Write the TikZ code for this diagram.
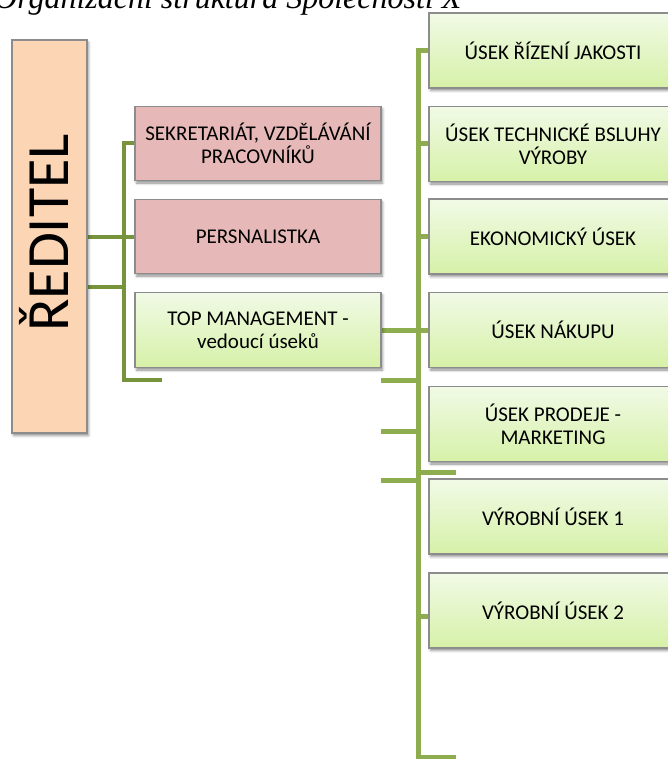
\documentclass[tikz,border=0pt]{standalone}
\usepackage{fontspec}
\setmainfont{Carlito}
\newfontfamily\titlefont{Liberation Serif}
\usetikzlibrary{shadows.blur,backgrounds}

\definecolor{peach}{HTML}{FCD5B5}
\definecolor{rose}{HTML}{E6B9B8}
\definecolor{greentop}{HTML}{F1FAE6}
\definecolor{greenbot}{HTML}{D6F1A8}
\definecolor{edge}{HTML}{8C8C8C}
\definecolor{linkdark}{HTML}{77933C}
\definecolor{linklight}{HTML}{8DAD4F}

\tikzset{
  box/.style={draw=edge, line width=1.3pt, inner sep=2pt, align=center,
    font=\fontsize{21}{23}\selectfont,
    blur shadow={shadow xshift=1.5pt, shadow yshift=-2.5pt,
      shadow blur radius=2.5pt, shadow opacity=45}},
  pinkbox/.style={box, fill=rose, minimum width=246pt, minimum height=74pt},
  greenbox/.style={box, top color=greentop, bottom color=greenbot,
    minimum width=246pt, minimum height=75pt},
  unitbox/.style={greenbox, minimum width=248pt},
  leftlink/.style={draw=linkdark, line width=4pt},
  rightlink/.style={draw=linklight, line width=5pt},
}

\begin{document}
\begin{tikzpicture}[x=1pt, y=-1pt]
  \useasboundingbox (0,0) rectangle (667,759);

  % heading, partly above the page edge
  \node[anchor=base west, inner sep=0,
        font=\titlefont\itshape\fontsize{32}{32}\selectfont] (title)
        at (-6,9) {Organizační struktura Společnosti X};

  % director
  \node[box, fill=peach, minimum width=75pt, minimum height=393pt] (boss)
        at (49.5,236.5) {};
  \node[rotate=90, anchor=base, inner sep=0,
        font=\fontsize{60}{60}\selectfont] (bosslabel) at (68,233) {ŘEDITEL};

  % staff units
  \node[pinkbox] (sek) at (258,143.5) {SEKRETARIÁT, VZDĚLÁVÁNÍ\\PRACOVNÍKŮ};
  \node[pinkbox] (pers) at (258,236.5) {PERSNALISTKA};
  \node[greenbox] (top) at (258,330) {TOP MANAGEMENT -\\vedoucí úseků};

  % divisions (their right side runs past the page edge)
  \node[unitbox] (u1) at (553,50.5)  {ÚSEK ŘÍZENÍ JAKOSTI};
  \node[unitbox] (u2) at (553,144)   {ÚSEK TECHNICKÉ BSLUHY\\VÝROBY};
  \node[unitbox] (u3) at (553,236.5) {EKONOMICKÝ ÚSEK};
  \node[unitbox] (u4) at (553,330)   {ÚSEK NÁKUPU};
  \node[unitbox] (u5) at (553,424)   {ÚSEK PRODEJE -\\MARKETING};
  \node[unitbox] (u6) at (553,516.5) {VÝROBNÍ ÚSEK 1};
  \node[unitbox] (u7) at (553,610.5) {VÝROBNÍ ÚSEK 2};

  % trunk positions and loose line ends
  \coordinate (lx) at (124,0);
  \coordinate (rx) at (418,0);
  \coordinate (lend) at (162,380);
  \coordinate (lstub) at (124,287);
  \coordinate (rend) at (456,757);
  \coordinate (s1) at (381,380);
  \coordinate (s2) at (381,431);
  \coordinate (s3) at (456,472);
  \coordinate (s4) at (381,480);

  \begin{scope}[on background layer]
    % left tree
    \draw[leftlink] (sek.west) -- (sek.west -| lx) -- (lx |- lend) -- (lend);
    \draw[leftlink] (boss.east) -- (pers.west);
    \draw[leftlink] (boss.east |- lstub) -- (lstub);

    % right tree
    \draw[rightlink] (u1.west) -- (u1.west -| rx) -- (rx |- rend) -- (rend);
    \draw[rightlink] (rx |- u2.west) -- (u2.west);
    \draw[rightlink] (rx |- u3.west) -- (u3.west);
    \draw[rightlink] (top.east) -- (u4.west);
    \draw[rightlink] ([yshift=-6pt]u7.west -| rx) -- ([yshift=-6pt]u7.west);
    \draw[rightlink] (s1) -- (s1 -| rx);
    \draw[rightlink] (s2) -- (s2 -| rx);
    \draw[rightlink] (s3) -- (s3 -| rx);
    \draw[rightlink] (s4) -- (s4 -| rx);
  \end{scope}
\end{tikzpicture}
\end{document}
